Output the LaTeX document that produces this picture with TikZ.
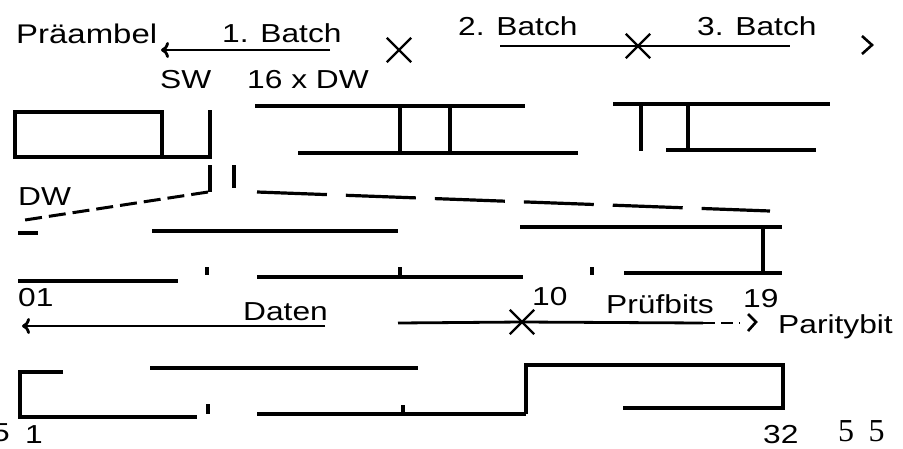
\documentclass[tikz,border=0pt]{standalone}
\usepackage{fontspec}
\newfontfamily\lblfont{Liberation Sans}[FakeStretch=1.22]
\newfontfamily\numfont{Liberation Serif}
\usetikzlibrary{arrows.meta,shapes.misc}
\tikzset{lbl/.style={font=\lblfont\fontsize{26}{30}\selectfont,inner sep=0pt,anchor=base west},sig/.style={line width=3.2pt},arrow/.style={-{To[length=8pt,width=16pt]},line width=2.8pt},kreuz/.style={cross out,draw,line width=2.4pt,minimum width=22pt,minimum height=22pt,inner sep=0pt},spitze/.style={line width=2.6pt},zoomline/.style={line width=3pt,dash pattern=on 17pt off 7pt}}

\begin{document}
\begin{tikzpicture}[x=1pt,y=-1pt]
\useasboundingbox (0,0) rectangle (903,448);
% Kopfzeile: Praeambel und Batches
\node[lbl,font=\lblfont\fontsize{27}{32}\selectfont] (pre) at (16,43) {Präambel};
\node[lbl] (b1) at (222,42) {1. Batch};
\node[lbl] (b2) at (458,35) {2. Batch};
\node[lbl] (b3) at (697,35) {3. Batch};
\coordinate (b1e) at (330,50);\coordinate (b1s) at (161,50);
\draw[arrow](b1e)--(b1s);
\node[kreuz] (x1) at (399,50) {};
\coordinate (b2s) at (500,46);\coordinate (b3e) at (790,46);
\node[kreuz] (x2) at (638,46) {};
\draw[sig,line width=2.8pt](b2s)--(x2.center)--(b3e);
\draw[spitze](862,36)--(872,45)--(862,54);
% Synchronwort und Datenwoerter
\node[lbl] (sw) at (160,88) {SW};
\node[lbl] (dw16) at (247,88) {16 x DW};
\draw[sig](162,157)--(162,112)--(15,112)--(15,157)--(210,157)--(210,110);
\draw[sig](255,106)--(525,106);\draw[sig](298,153)--(578,153);
\draw[sig](400,106)--(400,153);\draw[sig](450,106)--(450,153);
\draw[sig](613,104)--(830,104);\draw[sig](666,150)--(816,150);
\draw[sig](641,104)--(641,151);\draw[sig](688,104)--(688,150);
\draw[sig](210,165)--(210,192);\draw[sig](234,165)--(234,188);
% Ausschnitt DW
\node[lbl] (dw) at (18,205) {DW};
\coordinate (zs) at (208,192);\coordinate (ze) at (25,220);
\draw[zoomline](zs)--(ze);
\draw[sig](18,233)--(38,233);
\draw[sig,dash pattern=on 70pt off 19pt](257,192)--(770,211);
\draw[sig](152,231)--(398,231);
\draw[sig](520,227)--(782,227);\draw[sig](763,227)--(763,272);\draw[sig](624,273)--(782,273);
\draw[sig](18,281)--(178,281);\draw[sig](207,267)--(207,275);
\draw[sig](257,277)--(523,277);\draw[sig](400,267)--(400,277);\draw[sig](592,267)--(592,275);
% Bitfelder
\node[lbl] (n01) at (18,306) {01};
\node[lbl] (dat) at (243,320) {Daten};
\node[lbl] (n10) at (532,305) {10};
\node[lbl] (pb) at (606,313) {Prüfbits};
\node[lbl] (n19) at (743,307) {19};
\node[lbl] (par) at (778,333) {Paritybit};
\coordinate (ds) at (325,326);\coordinate (de) at (22,326);
\draw[arrow](ds)--(de);
\coordinate (ps) at (398,323);\coordinate (pe) at (703,323);
\node[kreuz] (x3) at (522,322) {};
\draw[sig,line width=2.8pt](ps)--(x3.center)--(pe);
\draw[sig,line width=2.8pt,dash pattern=on 12pt off 6pt](pe)--(740,323);
\draw[spitze](748,314)--(756,322)--(748,331);
% Codewort
\draw[sig](63,372)--(20,372)--(20,417)--(197,417);
\draw[sig](208,404)--(208,414);
\draw[sig](150,368)--(418,368);
\draw[sig](257,414)--(526,414);\draw[sig](403,405)--(403,414);
\draw[sig](526,414)--(526,365)--(783,365)--(783,408)--(623,408);
\node[lbl] (c0) at (-8,441) {5};
\node[lbl] (c1) at (25,443) {1};
\node[lbl] (c32) at (763,443) {32};
\node[lbl,font=\numfont\fontsize{32}{36}\selectfont] (seite) at (838,441) {5\hspace{0.45em}5};
\end{tikzpicture}
\end{document}
